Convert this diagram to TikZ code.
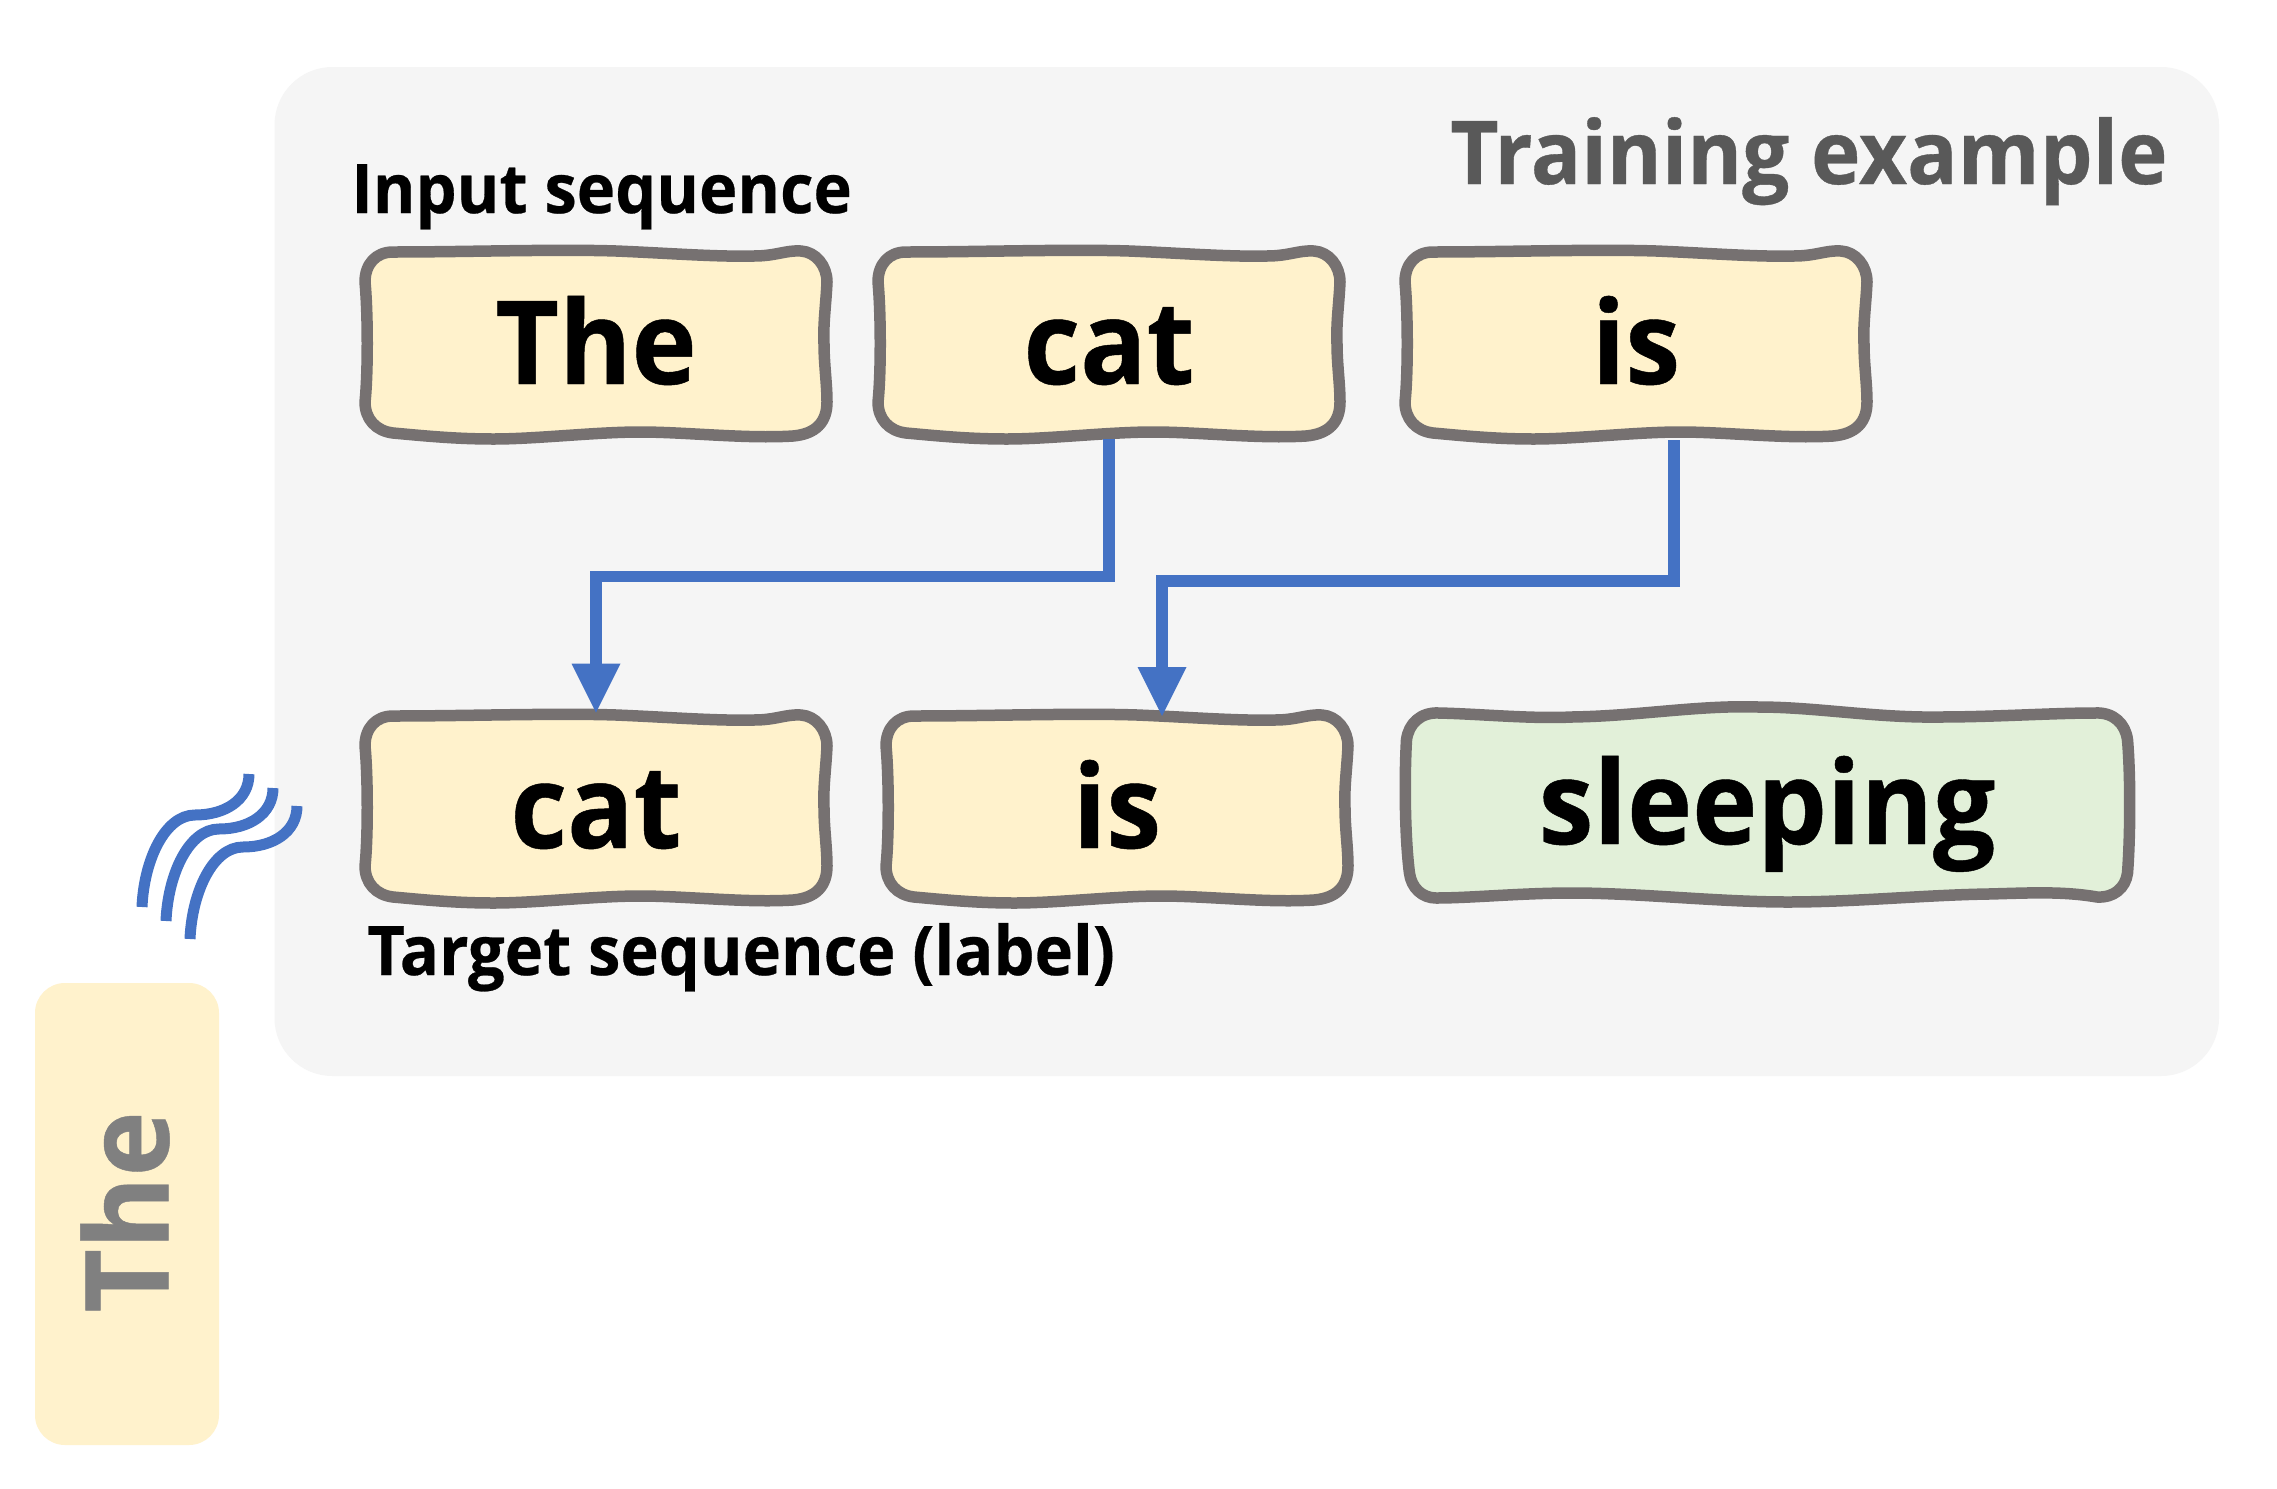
\documentclass[tikz,border=0pt]{standalone}
\usepackage{fontspec}
\setmainfont[BoldFont={Open Sans Bold},BoldFeatures={FakeStretch=0.95,FakeBold=0.4}]{Open Sans}
\usetikzlibrary{arrows.meta}
\definecolor{panelgrey}{HTML}{F5F5F5}
\definecolor{wordyellow}{HTML}{FFF2CC}
\definecolor{wordgreen}{HTML}{E2F0D9}
\definecolor{edgegrey}{HTML}{767171}
\definecolor{flowblue}{HTML}{4472C4}
\tikzset{
  wobble/.style={draw=edgegrey,line width=5.75pt,line join=round},
  word/.style={inner sep=0pt,font=\fontsize{58}{60}\selectfont\bfseries,text height=55pt,text depth=15pt,minimum height=95pt,minimum width=230pt},
  caption/.style={inner sep=0pt,anchor=base west,font=\fontsize{34.2}{36}\selectfont\bfseries},
  flow/.style={draw=flowblue,line width=5.75pt,miter limit=10,-{Triangle[length=24.5pt,width=24.5pt,line width=0pt]}},
  swoosh/.style={draw=flowblue,line width=5.5pt},
}
\newcommand{\shortbox}[5]{%
  \path[wobble,fill=#5,shift={(#2,#3)}]
    (-231,-62) .. controls (-231,-80) and (-220,-92) .. (-203,-92)
    .. controls (-130,-92) and (-40,-95) .. (20,-93)
    .. controls (70,-91) and (120,-87) .. (158,-88)
    .. controls (180,-88) and (190,-94) .. (205,-93)
    .. controls (220,-92) and (231,-78) .. (231,-62)
    .. controls (230,-40) and (227,-20) .. (228,0)
    .. controls (228,20) and (231,40) .. (231,58)
    .. controls (231,78) and (220,90) .. (197,92)
    .. controls (150,95) and (90,88) .. (44,88)
    .. controls (0,88) and (-60,95) .. (-102,95)
    .. controls (-140,95) and (-170,92) .. (-203,89)
    .. controls (-220,87) and (-231,75) .. (-231,58)
    .. controls (-228,30) and (-228,-30) .. (-231,-62) -- cycle;
  \node[word] (#1) at (#2,#3) {#4};
}
\newcommand{\swooshline}[2]{%
  \draw[swoosh,shift={(#1,#2)}] (142,907) .. controls (144,860) and (165,815) .. (195,815)
    .. controls (225,815) and (249,800) .. (249,774);
}
\begin{document}
\begin{tikzpicture}[x=0.5pt,y=-0.5pt]
\useasboundingbox[fill=white] (0,0) rectangle (2277,1489);
\fill[panelgrey,rounded corners=29pt] (274.5,67) rectangle (2219,1076);
\node[inner sep=0pt,anchor=base east,text=black!65,font=\fontsize{44}{44}\selectfont\bfseries] (title) at (2168,184) {Training example};
\node[caption] (incap) at (351,213) {Input sequence};
\node[caption] (tgtcap) at (367,975) {Target sequence (label)};
\shortbox{inthe}{596}{344}{The}{wordyellow}
\shortbox{incat}{1109}{344}{cat}{wordyellow}
\shortbox{inis}{1636}{344}{is}{wordyellow}
\shortbox{tgtcat}{596}{808}{cat}{wordyellow}
\shortbox{tgtis}{1117}{808}{is}{wordyellow}
\path[wobble,fill=wordgreen,shift={(1767,804)},xscale=0.985]
  (-366,-64) .. controls (-364,-80) and (-352,-92) .. (-333,-91)
  .. controls (-290,-90) and (-240,-85) .. (-198,-87)
  .. controls (-130,-88) and (-70,-99) .. (-9,-97)
  .. controls (50,-97) and (110,-86) .. (175,-87)
  .. controls (230,-87) and (290,-91) .. (333,-91)
  .. controls (352,-92) and (364,-80) .. (366,-64)
  .. controls (369,-30) and (369,30) .. (366,69)
  .. controls (364,84) and (352,94) .. (335,93)
  .. controls (300,87) and (265,89) .. (225,90)
  .. controls (160,91) and (90,98) .. (21,98)
  .. controls (-50,98) and (-130,89) .. (-198,89)
  .. controls (-250,89) and (-300,94) .. (-336,94)
  .. controls (-350,94) and (-361,84) .. (-363,69)
  .. controls (-368,30) and (-368,-30) .. (-366,-64) -- cycle;
\node[word] (tgtsleep) at (1767,804) {sleeping};
\coordinate (lvlA) at (0,576.5);
\coordinate (lvlB) at (0,581);
\coordinate (srcB) at (1674,440);
\coordinate (dstB) at (1162,716);
\draw[flow] (incat.south) -- (incat.south |- lvlA) -- (tgtcat.north |- lvlA) -- (tgtcat.north);
\draw[flow] (srcB) -- (srcB |- lvlB) -- (dstB |- lvlB) -- (dstB);
\swooshline{0}{0}
\swooshline{24}{14}
\swooshline{48}{32}
\fill[wordyellow,rounded corners=15pt] (35,983) rectangle (219,1445);
\node[inner sep=0pt,rotate=90,text=black!50,font=\fontsize{58}{60}\selectfont\bfseries] (lone) at (125,1212) {The};
\end{tikzpicture}
\end{document}
